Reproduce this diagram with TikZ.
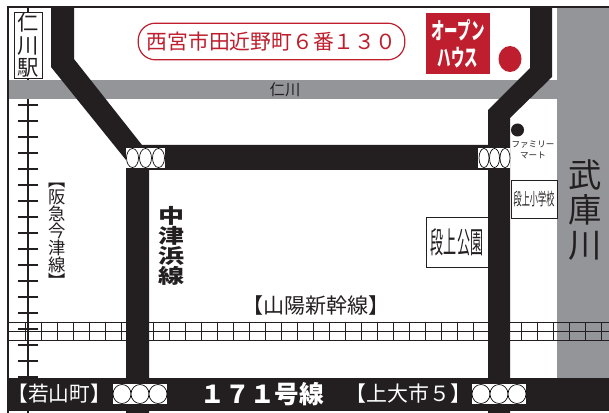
\documentclass[tikz,border=0pt]{standalone}
\usepackage{fontspec}
\usepackage{graphicx}
\setmainfont{Liberation Serif}
\newfontfamily\cjk{Noto Sans CJK JP}
\definecolor{ink}{HTML}{231F20}
\definecolor{river}{HTML}{939598}
\definecolor{redc}{HTML}{BE1E2D}
\newcommand{\pxf}[2]{\fontsize{#1}{#2}\selectfont\cjk}
\newcommand{\pxb}[2]{\fontsize{#1}{#2}\selectfont\cjk\bfseries}
\newcommand{\wch}[1]{\scalebox{1.3}[1]{#1}}
\tikzset{
  x=0.75pt,y=-0.75pt,
  road/.style={fill=ink,draw=none},
  riverbed/.style={fill=river,draw=none},
  thinline/.style={draw=ink,line width=0.6pt},
  sigbox/.style={fill=white,draw=none},
  sigoval/.style={fill=white,draw=black,line width=0.5pt},
  boxed/.style={fill=white,draw=ink,line width=0.6pt},
  lbl/.style={inner sep=0pt,outer sep=0pt,text=ink,align=center},
}
\begin{document}
\begin{tikzpicture}
\useasboundingbox (0,0) rectangle (609,413);
\fill[white] (0,0) rectangle (609,413);
% rivers
\fill[riverbed] (9,80) rectangle (557,99);
\fill[riverbed] (557,8) rectangle (609,378);
% frame
\draw[draw=ink,line width=0.9pt] (609,7) -- (8,7) -- (8,413);
% Hankyu rail
\draw[thinline,line width=0.8pt] (28,8) -- (28,80);
\draw[thinline,line width=0.8pt] (28,99) -- (28,413);
\foreach \yy in {105,121,...,377}{\draw[thinline,line width=0.8pt] (18,\yy) -- (38,\yy);}
% Shinkansen
\foreach \yy in {322,331,340}{\draw[thinline] (9,\yy) -- (609,\yy);}
\foreach \xx in {25,41,...,601}{\draw[thinline] (\xx,322) -- (\xx,340);}
% roads
\fill[road] (51,8) -- (74,8) -- (74,59) -- (142,145) -- (489,145) -- (489,170) -- (149,170) -- (149,413) -- (126,413) -- (126,160) -- (51,67) -- cycle;
\fill[road] (530,8) -- (552,8) -- (552,77) -- (510,118) -- (510,413) -- (488,413) -- (488,110) -- (530,68) -- cycle;
% route 171 bar
\fill[road] (8,378) rectangle (609,411);
% signals on roads
\fill[sigbox] (126,148) rectangle (165,168);
\foreach \xx in {132.5,145.5,158.5}{\draw[sigoval] (\xx,158) ellipse (6 and 9.5);}
\fill[sigbox] (478,148) rectangle (510,168);
\foreach \xx in {484,494.5,505}{\draw[sigoval] (\xx,158) ellipse (5 and 9.5);}
% signals on bar
\fill[sigbox] (113,384) rectangle (167,404);
\foreach \xx in {122,140,158}{\draw[sigoval] (\xx,394) ellipse (9 and 9.5);}
\fill[sigbox] (472,384) rectangle (526,404);
\foreach \xx in {481,499,517}{\draw[sigoval] (\xx,394) ellipse (9 and 9.5);}
% station
\node[boxed,lbl,minimum width=21.5pt,minimum height=49.5pt,font=\pxf{16}{17}] (eki) at (28.5,45) {仁\\川\\駅};
% address
\node[draw=redc,line width=0.9pt,rounded corners=13pt,minimum width=200pt,minimum height=27.5pt,inner sep=0pt,text=redc,font=\pxf{15.6}{16}] (addr) at (271.5,41.5) {西宮市田近野町６番１３０};
% open house
\node[fill=redc,minimum width=48pt,minimum height=45.5pt,inner sep=0pt,text=white,align=center,font=\pxb{14}{20.5}] (oh) at (458,43.5) {\scalebox{0.72}[1.25]{オープン}\\\scalebox{0.72}[1.25]{ハウス}};
\fill[redc] (510,59) ellipse (11.5 and 13);
% labels
\node[lbl,font=\pxf{11.5}{12}] (nigawa) at (285,90) {仁川};
\fill[ink] (517.5,130) circle (6.5);
\node[lbl,font=\pxf{6.4}{8.2}] (fm) at (533,149.5) {ファミリー\\マート\hspace{5pt}};
\node[boxed,minimum width=34.5pt,minimum height=29pt,inner sep=0pt,lbl,font=\pxf{8.5}{9}] (school) at (534,199.5) {\scalebox{0.72}[1.5]{段上小学校}};
\node[boxed,minimum width=46.5pt,minimum height=37.5pt,inner sep=0pt,lbl,font=\pxf{14}{15}] (park) at (457,242) {\scalebox{0.7}[1.6]{段上公園}};
\node[lbl,font=\pxf{25}{26}] (muko) at (585,210) {武\\庫\\川};
\node[lbl,font=\pxb{15}{15}] (naka) at (171,246) {\wch{中}\\\wch{津}\\\wch{浜}\\\wch{線}};
\node[lbl,font=\pxf{13}{12.8}] (hankyu) at (57,231) {阪\\急\\今\\津\\線};
\node[lbl,font=\pxf{13}{13},rotate=-90] (hkopen) at (57,180) {【};
\node[lbl,font=\pxf{13}{13},rotate=-90] (hkclose) at (57,281) {】};
\node[lbl,font=\pxf{15.8}{16}] (sanyo) at (316,305) {【山陽新幹線】};
% bar text
\node[lbl,text=white,font=\pxf{15.5}{16}] (waka) at (59,394) {【若山町】};
\node[lbl,text=white,font=\pxb{18.5}{19}] (r171) at (262.5,394) {１７１号線};
\node[lbl,text=white,font=\pxf{15.7}{16}] (ue) at (408.5,394) {【上大市５】};
\end{tikzpicture}
\end{document}
